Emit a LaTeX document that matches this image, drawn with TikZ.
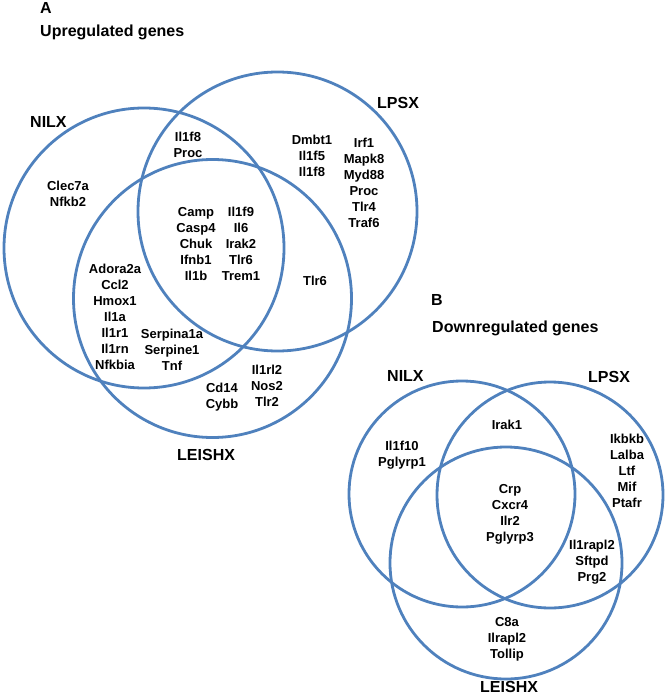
\documentclass[tikz,border=0pt]{standalone}
\usepackage{fontspec}
\setmainfont{Liberation Sans}
\definecolor{vblue}{RGB}{79,129,189}
\tikzset{
  venn/.style={circle, draw=vblue, line width=2.8pt, inner sep=0pt, outer sep=0pt},
  gene/.style={font=\fontsize{13}{16}\selectfont\bfseries, align=center, inner sep=0pt},
  setlab/.style={font=\fontsize{16}{19}\selectfont\bfseries, inner sep=0pt, anchor=base west}
}
\begin{document}
\begin{tikzpicture}[x=1pt,y=-1pt]
\useasboundingbox (0,0) rectangle (669,695);
% Panel A
\node[setlab] (tA) at (40,14) {A};
\node[setlab] (sA) at (40,37) {Upregulated genes};
\node[venn, minimum size=280pt] (nilxA) at (144,248) {};
\node[venn, minimum size=279pt] (lpsxA) at (277.5,211.5) {};
\node[venn, minimum size=278pt] (leishA) at (212.5,298.5) {};
\node[setlab] (lnA) at (30,128) {NILX};
\node[setlab] (llA) at (377,109) {LPSX};
\node[setlab] (leA) at (177,460) {LEISHX};
\node[gene] (a1) at (188,145) {Il1f8\\Proc};
\node[gene] (a2) at (312,156) {Dmbt1\\Il1f5\\Il1f8};
\node[gene] (a3) at (364,183) {Irf1\\Mapk8\\Myd88\\Proc\\Tlr4\\Traf6};
\node[gene] (a4) at (68,193.5) {Clec7a\\Nfkb2};
\node[gene] (a5) at (196,244) {Camp\\Casp4\\Chuk\\Ifnb1\\Il1b};
\node[gene] (a6) at (241,244) {Il1f9\\Il6\\Irak2\\Tlr6\\Trem1};
\node[gene] (a7) at (315,281) {Tlr6};
\node[gene] (a8) at (115,317) {Adora2a\\Ccl2\\Hmox1\\Il1a\\Il1r1\\Il1rn\\Nfkbia};
\node[gene] (a9) at (172,350) {Serpina1a\\Serpine1\\Tnf};
\node[gene] (a10) at (222,397) {Cd14\\Cybb};
\node[gene] (a11) at (267,386) {Il1rl2\\Nos2\\Tlr2};
% Panel B
\node[setlab] (tB) at (431,305) {B};
\node[setlab] (sB) at (432,332) {Downregulated genes};
\node[venn, minimum size=226pt] (nilxB) at (462,494) {};
\node[venn, minimum size=226pt] (lpsxB) at (550,495) {};
\node[venn, minimum size=232pt] (leishB) at (506,563) {};
\node[setlab] (lnB) at (387,381) {NILX};
\node[setlab] (llB) at (588,382) {LPSX};
\node[setlab] (leB) at (480,692) {LEISHX};
\node[gene] (b1) at (507,425) {Irak1};
\node[gene] (b2) at (402,455) {Il1f10\\Pglyrp1};
\node[gene] (b3) at (627,471) {Ikbkb\\Lalba\\Ltf\\Mif\\Ptafr};
\node[gene] (b4) at (510,514) {Crp\\Cxcr4\\Ilr2\\Pglyrp3};
\node[gene] (b5) at (592,562) {Il1rapl2\\Sftpd\\Prg2};
\node[gene] (b6) at (507,639) {C8a\\Ilrapl2\\Tollip};
\end{tikzpicture}
\end{document}
